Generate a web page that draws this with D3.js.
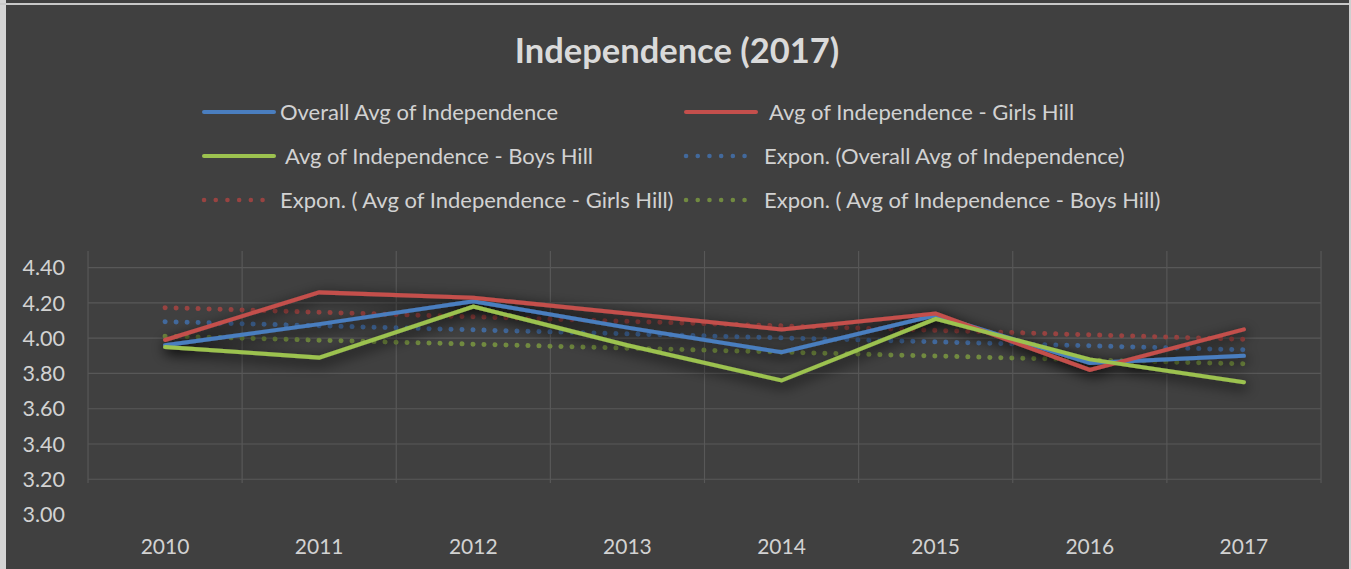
<!DOCTYPE html>
<html>
<head>
<meta charset="utf-8">
<script src="https://cdn.jsdelivr.net/npm/d3@7"></script>
<style>
  html, body { margin: 0; padding: 0; background: #404040; }
  svg { display: block; }
</style>
</head>
<body>
<div id="chart"></div>
<script>
// data
const years = ["2010", "2011", "2012", "2013", "2014", "2015", "2016", "2017"];
const overallAvg = [3.96, 4.08, 4.21, 4.06, 3.92, 4.13, 3.86, 3.90];
const girlsHill  = [3.99, 4.26, 4.23, 4.14, 4.05, 4.14, 3.82, 4.05];
const boysHill   = [3.95, 3.89, 4.18, 3.96, 3.76, 4.11, 3.88, 3.75];
const yTicks = [3.0, 3.2, 3.4, 3.6, 3.8, 4.0, 4.2, 4.4];

const series = [
  { name: "Overall Avg of Independence", values: overallAvg, color: "#4a7ebf", trendColor: "#42699c" },
  { name: " Avg of Independence - Girls Hill", values: girlsHill, color: "#c44f4c", trendColor: "#984341" },
  { name: " Avg of Independence - Boys Hill", values: boysHill, color: "#9cc24f", trendColor: "#718a40" }
];

//==============================================================================

const width = 1351, height = 569;
const svg = d3.select("#chart").append("svg")
    .attr("width", width)
    .attr("height", height);

// drop shadow like the office chart style
const defs = svg.append("defs");
const f = defs.append("filter").attr("id", "shadow")
    .attr("x", "-10%").attr("y", "-60%").attr("width", "120%").attr("height", "220%");
f.append("feGaussianBlur").attr("in", "SourceAlpha").attr("stdDeviation", 7).attr("result", "b");
f.append("feOffset").attr("in", "b").attr("dx", 2).attr("dy", 4).attr("result", "o");
f.append("feComponentTransfer").attr("in", "o").attr("result", "s")
  .append("feFuncA").attr("type", "linear").attr("slope", 1.1);
const fm = f.append("feMerge");
fm.append("feMergeNode").attr("in", "s");
fm.append("feMergeNode").attr("in", "SourceGraphic");

// frame
svg.append("rect").attr("width", width).attr("height", height).attr("fill", "#404040");
svg.append("rect").attr("x", 0).attr("y", 0).attr("width", 6).attr("height", height).attr("fill", "#d4d4d4");
svg.append("rect").attr("x", 0).attr("y", 3).attr("width", width).attr("height", 2).attr("fill", "#c8c8c8");
svg.append("rect").attr("x", width - 2).attr("y", 0).attr("width", 2).attr("height", height).attr("fill", "#cfcfcf");

const font = "Lato, 'Open Sans', sans-serif";
const textColor = "#d2d2d2";

// title
svg.append("text")
    .attr("x", 677).attr("y", 63)
    .attr("text-anchor", "middle")
    .attr("font-family", font)
    .attr("font-weight", "bold")
    .attr("font-size", 34.5)
    .attr("fill", "#dadada")
    .text("Independence (2017)");

// scales
const x = d3.scaleBand().domain(years).range([88, 1321]);
const y = d3.scaleLinear().domain([3.0, 4.4]).range([514.5, 267.7]);
const cx = d => x(d) + x.bandwidth() / 2;

// gridlines
const grid = svg.append("g").attr("stroke", "#585858").attr("stroke-width", 1.2);
grid.selectAll("line.h")
  .data(yTicks.filter(t => t > 3.0))
  .join("line")
    .attr("x1", 88).attr("x2", 1321)
    .attr("y1", d => y(d)).attr("y2", d => y(d));
grid.selectAll("line.v")
  .data(years.concat(["end"]))
  .join("line")
    .attr("x1", (d, i) => 88 + i * x.bandwidth())
    .attr("x2", (d, i) => 88 + i * x.bandwidth())
    .attr("y1", 251).attr("y2", 483);

// y axis labels
svg.append("g")
  .selectAll("text")
  .data(yTicks)
  .join("text")
    .attr("x", 65)
    .attr("y", d => y(d))
    .attr("dy", "0.36em")
    .attr("text-anchor", "end")
    .attr("font-family", font)
    .attr("font-size", 21.5)
    .attr("fill", textColor)
    .text(d => d3.format(".2f")(d));

// x axis labels
svg.append("g")
  .selectAll("text")
  .data(years)
  .join("text")
    .attr("x", d => cx(d))
    .attr("y", 546)
    .attr("dy", "0.36em")
    .attr("text-anchor", "middle")
    .attr("font-family", font)
    .attr("font-size", 21)
    .attr("fill", textColor)
    .text(d => d);

// exponential trend (least squares on ln y, x = 1..n, as the spreadsheet does)
function expTrend(values) {
  const xs = values.map((_, i) => i + 1);
  const ls = values.map(v => Math.log(v));
  const mx = d3.mean(xs), ml = d3.mean(ls);
  const b = d3.sum(xs, (xv, i) => (xv - mx) * (ls[i] - ml)) / d3.sum(xs, xv => (xv - mx) * (xv - mx));
  const a = ml - b * mx;
  return xs.map(xv => Math.exp(a + b * xv));
}

const line = d3.line().x((d, i) => cx(years[i])).y(d => y(d));

// trend lines (dotted) under the data lines
const trends = svg.append("g");
series.forEach(s => {
  trends.append("path")
      .attr("d", line(expTrend(s.values)))
      .attr("fill", "none")
      .attr("stroke", s.trendColor)
      .attr("stroke-width", 5)
      .attr("stroke-linecap", "round")
      .attr("stroke-dasharray", "0.1 10.9");
});

const lines = svg.append("g").attr("filter", "url(#shadow)");
series.forEach(s => {
  lines.append("path")
      .attr("d", line(s.values))
      .attr("fill", "none")
      .attr("stroke", s.color)
      .attr("stroke-width", 4)
      .attr("stroke-linejoin", "miter")
      .attr("stroke-linecap", "round");
});

// legend
const legendItems = [
  { label: series[0].name, color: series[0].color, dotted: false, x: 204, y: 112, tx: 280 },
  { label: series[1].name, color: series[1].color, dotted: false, x: 686, y: 112, tx: 764 },
  { label: series[2].name, color: series[2].color, dotted: false, x: 204, y: 156, tx: 280 },
  { label: "Expon. (Overall Avg of Independence)", color: series[0].trendColor, dotted: true, x: 686, y: 156, tx: 764 },
  { label: "Expon. ( Avg of Independence - Girls Hill)", color: series[1].trendColor, dotted: true, x: 204, y: 200, tx: 280 },
  { label: "Expon. ( Avg of Independence - Boys Hill)", color: series[2].trendColor, dotted: true, x: 686, y: 200, tx: 764 }
];

const legend = svg.append("g");
legendItems.forEach(d => {
  legend.append("line")
      .attr("x1", d.x).attr("x2", d.x + 70)
      .attr("y1", d.y).attr("y2", d.y)
      .attr("stroke", d.color)
      .attr("stroke-width", d.dotted ? 4.5 : 4)
      .attr("stroke-linecap", "round")
      .attr("stroke-dasharray", d.dotted ? "0.1 11.6" : null);
  legend.append("text")
      .attr("x", d.tx).attr("y", d.y)
      .attr("dy", "0.35em")
      .attr("font-family", font)
      .attr("font-size", 22)
      .attr("fill", textColor)
      .attr("xml:space", "preserve")
      .style("white-space", "pre")
      .text(d.label);
});
</script>
</body>
</html>
